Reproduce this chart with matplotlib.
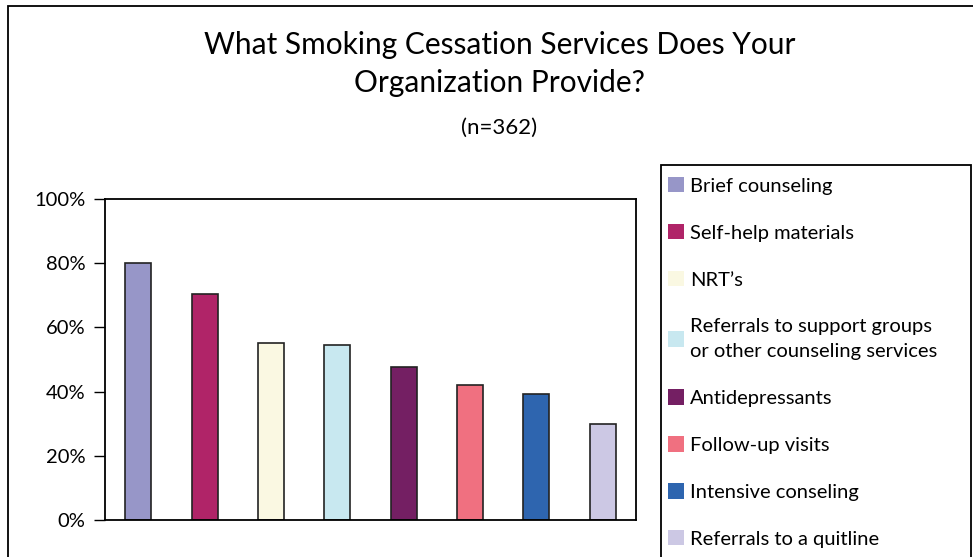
import matplotlib.pyplot as plt
from matplotlib.patches import Rectangle, Patch
from matplotlib.ticker import PercentFormatter

plt.rcParams['font.family'] = ['Lato', 'DejaVu Sans']

# Datos
servicios = ["Brief counseling", "Self-help materials", "NRT\u2019s",
             "Referrals to support groups\nor other counseling services",
             "Antidepressants", "Follow-up visits", "Intensive conseling",
             "Referrals to a quitline"]
porcentajes = [80.0, 70.3, 55.2, 54.5, 47.8, 42.0, 39.3, 29.8]
colores = ["#9796C8", "#B02468", "#FAF8E2", "#C8E8F0",
           "#741F63", "#F07080", "#2E65AF", "#CCC8E4"]

fig = plt.figure(figsize=(9.73, 5.57), dpi=100)
W, H = 973, 557

# Ejes en pixeles: x 105-636, y 199-520
ax = fig.add_axes([105 / W, 1 - 520 / H, (636 - 105) / W, (520 - 199) / H])
x = range(len(servicios))
ax.bar(x, porcentajes, width=0.39, color=colores, edgecolor="#222222", linewidth=1.2)
ax.set_xlim(-0.5, len(servicios) - 0.5)
ax.set_ylim(0, 100)
ax.set_yticks([0, 20, 40, 60, 80, 100])
ax.yaxis.set_major_formatter(PercentFormatter(decimals=0))
ax.set_xticks([])
ax.tick_params(axis="y", length=8, width=1, labelsize=14.5, pad=6)
for s in ax.spines.values():
    s.set_linewidth(1.3)

# Titulo
fig.text(500 / W, 1 - 64 / H, "What Smoking Cessation Services Does Your\nOrganization Provide?",
         ha="center", va="center", fontsize=21.5, linespacing=1.42)
fig.text(499 / W, 1 - 128 / H, "(n=362)", ha="center", va="center", fontsize=16)

# Marco exterior y caja de leyenda
fig.patches.append(Rectangle((8 / W, -0.1), 1.2, 1 - 6 / H + 0.1, transform=fig.transFigure,
                             fill=False, edgecolor="black", linewidth=1.3))
fig.patches.append(Rectangle((661 / W, -0.1), (971 - 661) / W, 1 - 165 / H + 0.1,
                             transform=fig.transFigure, fill=False, edgecolor="black",
                             linewidth=1.3))

handles = [Patch(facecolor=c, edgecolor="none") for c in colores]
leg = fig.legend(handles, servicios, loc="upper left", bbox_to_anchor=(668 / W, 1 - 177 / H),
                 frameon=False, fontsize=14.5, handlelength=0.8, handleheight=0.8,
                 handletextpad=0.3, labelspacing=1.45, borderaxespad=0, borderpad=0)
for t in leg.get_texts():
    t.set_linespacing(1.6)

fig.savefig("out.png", dpi=100)
